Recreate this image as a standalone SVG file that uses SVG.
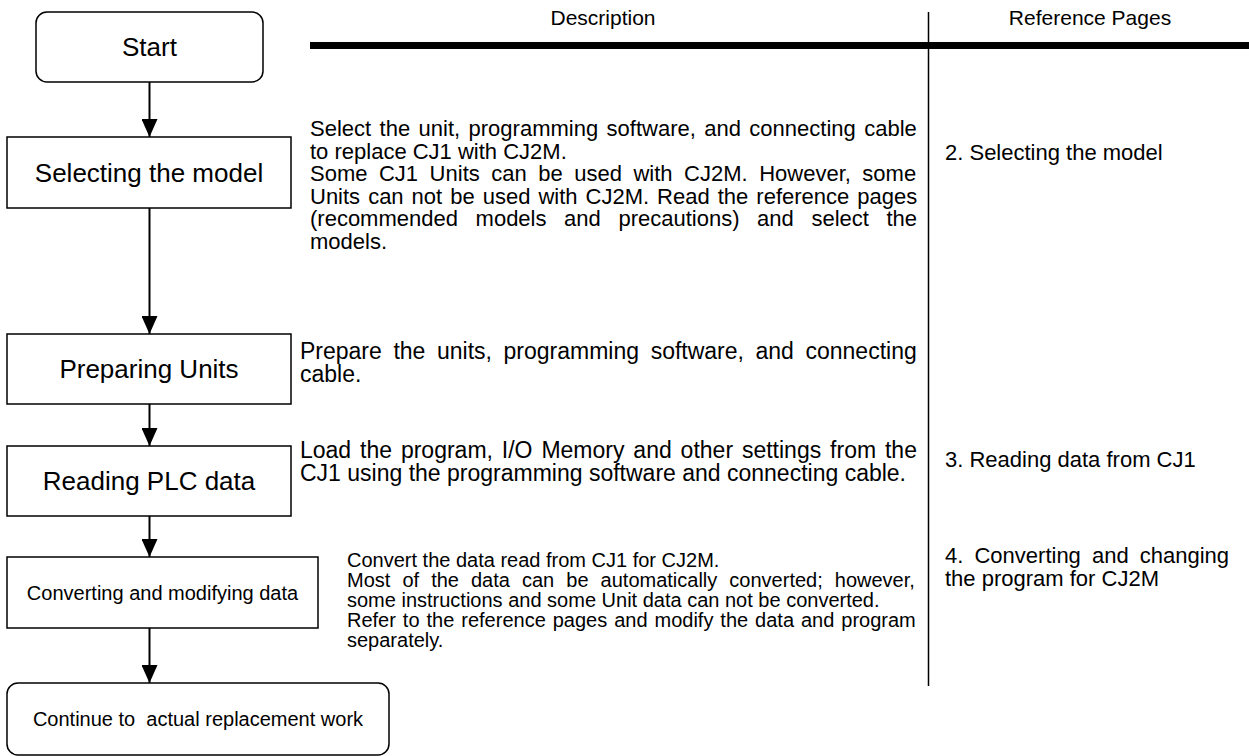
<svg xmlns="http://www.w3.org/2000/svg" width="1249" height="756" viewBox="0 0 1249 756">
<style>
text{font-family:"Liberation Sans",Arial,sans-serif;fill:#000}
.box{fill:#fff;stroke:#000;stroke-width:1.5}
.lbl{font-size:26px;text-anchor:middle}
.lbs{font-size:20px;text-anchor:middle;white-space:pre}
.hd{font-size:21px;text-anchor:middle}
.d1{font-size:22px}
.d2{font-size:23px}
.d3{font-size:20px}
.rf{font-size:22px}
.conn line{stroke:#000;stroke-width:2;marker-end:url(#ah)}
</style>
<defs>
<marker id="ah" markerUnits="userSpaceOnUse" markerWidth="20" markerHeight="16" refX="18" refY="8" orient="auto">
<path d="M0,0 L18,8 L0,16 Z" fill="#000"/>
</marker>
</defs>
<rect width="1249" height="756" fill="#fff"/>

<g id="header">
<text class="hd" x="603" y="25">Description</text>
<text class="hd" x="1090" y="25">Reference Pages</text>
<rect x="310" y="42" width="939" height="7" fill="#000"/>
<line x1="928.5" y1="12" x2="928.5" y2="686" stroke="#000" stroke-width="1.5"/>
</g>

<g class="conn">
<line x1="149.5" y1="82" x2="149.5" y2="137"/>
<line x1="149.5" y1="208" x2="149.5" y2="334"/>
<line x1="149.5" y1="404" x2="149.5" y2="446"/>
<line x1="149.5" y1="516" x2="149.5" y2="557"/>
<line x1="149.5" y1="628" x2="149.5" y2="683"/>
</g>

<g id="start">
<rect class="box" x="36" y="12" width="227" height="70" rx="11"/>
<text class="lbl" x="149.5" y="56">Start</text>
</g>

<g id="selecting">
<rect class="box" x="7" y="137" width="284" height="71"/>
<text class="lbl" x="149" y="181.5">Selecting the model</text>
</g>

<g id="preparing">
<rect class="box" x="7" y="334" width="284" height="70"/>
<text class="lbl" x="149" y="378">Preparing Units</text>
</g>

<g id="reading">
<rect class="box" x="7" y="446" width="284" height="70"/>
<text class="lbl" x="149" y="490">Reading PLC data</text>
</g>

<g id="converting">
<rect class="box" x="7" y="557" width="311" height="71"/>
<text class="lbs" x="162.5" y="599.5">Converting and modifying data</text>
</g>

<g id="continue">
<rect class="box" x="7" y="683" width="382" height="72" rx="11"/>
<text class="lbs" x="198" y="726">Continue to  actual replacement work</text>
</g>

<g id="desc-selecting">
<text class="d1" x="310" y="136" word-spacing="2.3">Select the unit, programming software, and connecting cable</text>
<text class="d1" x="310" y="158.5">to replace CJ1 with CJ2M.</text>
<text class="d1" x="310" y="181" word-spacing="5.4">Some CJ1 Units can be used with CJ2M. However, some</text>
<text class="d1" x="310" y="203.5" word-spacing="1.9">Units can not be used with CJ2M. Read the reference pages</text>
<text class="d1" x="310" y="226" word-spacing="11.5">(recommended models and precautions) and select the</text>
<text class="d1" x="310" y="248.5">models.</text>
</g>

<g id="desc-preparing">
<text class="d2" x="300" y="359" word-spacing="5.2">Prepare the units, programming software, and connecting</text>
<text class="d2" x="300" y="382">cable.</text>
</g>

<g id="desc-reading">
<text class="d2" x="300" y="458" word-spacing="2.5">Load the program, I/O Memory and other settings from the</text>
<text class="d2" x="300" y="481">CJ1 using the programming software and connecting cable.</text>
</g>

<g id="desc-converting">
<text class="d3" x="347" y="567">Convert the data read from CJ1 for CJ2M.</text>
<text class="d3" x="347" y="587" word-spacing="6.5">Most of the data can be automatically converted; however,</text>
<text class="d3" x="347" y="607">some instructions and some Unit data can not be converted.</text>
<text class="d3" x="347" y="627" word-spacing="1.4">Refer to the reference pages and modify the data and program</text>
<text class="d3" x="347" y="647">separately.</text>
</g>

<g id="refs">
<text class="rf" x="945" y="160">2. Selecting the model</text>
<text class="rf" x="945" y="467">3. Reading data from CJ1</text>
<text class="rf" x="945" y="563" word-spacing="5">4. Converting and changing</text>
<text class="rf" x="945" y="586">the program for CJ2M</text>
</g>
</svg>
